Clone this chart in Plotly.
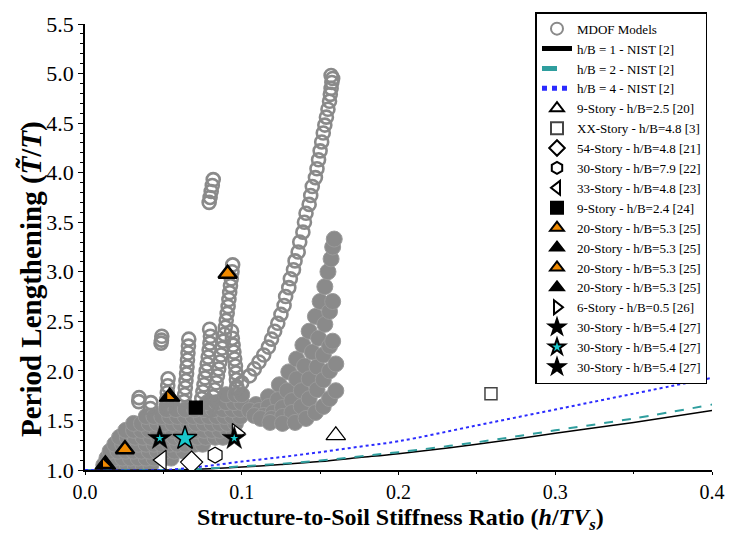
import plotly.graph_objects as go

# ---------------- data ----------------
# NIST curves
nist_x = [0.0, 0.05, 0.075, 0.1, 0.125, 0.15, 0.175, 0.2, 0.25, 0.3, 0.35, 0.4]
nist_hb1 = [1.0, 1.0, 1.01, 1.03, 1.055, 1.085, 1.125, 1.165, 1.26, 1.37, 1.48, 1.60]
nist_hb2 = [1.0, 1.0, 1.012, 1.037, 1.063, 1.095, 1.137, 1.18, 1.28, 1.40, 1.52, 1.66]
nist_hb4 = [1.0, 1.0, 1.035, 1.085, 1.13, 1.18, 1.235, 1.29, 1.45, 1.61, 1.77, 1.93]

# MDOF models - open circle chains (branches, columns, isolated groups)
long_x = [0.097, 0.100, 0.105, 0.108, 0.111, 0.114, 0.117, 0.119, 0.121, 0.123, 0.125, 0.127, 0.128,
          0.130, 0.131, 0.133, 0.134, 0.136, 0.137, 0.139, 0.140, 0.141, 0.143, 0.144, 0.145, 0.147,
          0.148, 0.149, 0.150, 0.151, 0.152, 0.153, 0.154, 0.155, 0.156, 0.1565, 0.157, 0.1575, 0.158, 0.157]
long_y = [1.82, 1.88, 1.95, 2.02, 2.09, 2.16, 2.24, 2.32, 2.40, 2.48, 2.57, 2.66, 2.75,
          2.84, 2.93, 3.02, 3.11, 3.20, 3.30, 3.40, 3.50, 3.59, 3.68, 3.77, 3.86, 3.95,
          4.04, 4.13, 4.22, 4.31, 4.40, 4.48, 4.56, 4.64, 4.72, 4.79, 4.85, 4.91, 4.95, 4.98]
col1_x = [0.0797, 0.0808, 0.0818, 0.0828, 0.0837, 0.0845, 0.0853, 0.0861, 0.0868, 0.0875, 0.0882,
          0.0889, 0.0895, 0.0901, 0.0907, 0.0913, 0.0918, 0.0923, 0.0928, 0.0933, 0.0938, 0.0942]
col1_y = [1.60, 1.67, 1.74, 1.81, 1.88, 1.95, 2.02, 2.09, 2.16, 2.23, 2.30,
          2.37, 2.44, 2.51, 2.58, 2.65, 2.72, 2.79, 2.86, 2.93, 3.00, 3.07]
hook_x = [0.0745, 0.0752, 0.0759, 0.0766, 0.0773, 0.0780, 0.0786, 0.0792, 0.0797, 0.0800, 0.0795]
hook_y = [1.72, 1.79, 1.86, 1.93, 2.00, 2.07, 2.14, 2.21, 2.28, 2.35, 2.42]
col2_x = [0.0968, 0.0966, 0.0963, 0.0960, 0.0955, 0.0950, 0.0945, 0.0940, 0.0935]
col2_y = [1.84, 1.91, 1.98, 2.05, 2.12, 2.19, 2.26, 2.33, 2.40]
col3_x = [0.0632, 0.0636, 0.0640, 0.0644, 0.0648, 0.0651, 0.0654, 0.0657, 0.0660, 0.0662]
col3_y = [1.69, 1.76, 1.83, 1.90, 1.97, 2.04, 2.11, 2.18, 2.25, 2.32]
col4_x = [0.0518, 0.0522, 0.0525, 0.0528, 0.0530]
col4_y = [1.64, 1.71, 1.78, 1.85, 1.92]
col5_x = [0.0417, 0.0420]
col5_y = [1.62, 1.68]
blob_a_x = [0.0485, 0.0488, 0.0490]
blob_a_y = [2.28, 2.31, 2.35]
blob_b_x = [0.0343, 0.0345]
blob_b_y = [1.69, 1.73]
blob_c_x = [0.0792, 0.0798, 0.0805, 0.0812, 0.0818]
blob_c_y = [3.70, 3.75, 3.81, 3.87, 3.93]

# MDOF models - dense regions (main cluster, rows of centres)
mass_rows_y = [1.05, 1.12, 1.19, 1.26, 1.33, 1.40, 1.47, 1.54, 1.61, 1.68, 1.76]
mass_rows_x = [
    [0.012, 0.017, 0.022, 0.027, 0.032, 0.037, 0.042],
    [0.014, 0.019, 0.024, 0.029, 0.034, 0.039, 0.044, 0.050, 0.055],
    [0.016, 0.021, 0.026, 0.031, 0.036, 0.041, 0.046, 0.051, 0.057, 0.063],
    [0.019, 0.024, 0.029, 0.034, 0.039, 0.044, 0.049, 0.054, 0.059, 0.064, 0.070, 0.075],
    [0.022, 0.027, 0.032, 0.037, 0.042, 0.047, 0.052, 0.057, 0.062, 0.067, 0.072, 0.077, 0.083, 0.088],
    [0.026, 0.031, 0.036, 0.041, 0.046, 0.051, 0.056, 0.061, 0.066, 0.071, 0.076, 0.081, 0.086, 0.091, 0.095],
    [0.031, 0.036, 0.041, 0.046, 0.051, 0.056, 0.061, 0.066, 0.071, 0.076, 0.081, 0.086, 0.091, 0.096],
    [0.039, 0.044, 0.049, 0.054, 0.059, 0.064, 0.069, 0.074, 0.079, 0.084, 0.089, 0.094, 0.099],
    [0.052, 0.058, 0.064, 0.070, 0.076, 0.082, 0.088, 0.094, 0.099],
    [0.078, 0.084, 0.090, 0.095, 0.100],
    [0.090, 0.096, 0.100],
]
# right fan (sub-branches)
fan_a_x = [0.109, 0.117, 0.124, 0.130, 0.135, 0.139, 0.143, 0.147, 0.150, 0.153, 0.155, 0.157, 0.158, 0.159]
fan_a_y = [1.66, 1.74, 1.86, 1.99, 2.12, 2.26, 2.40, 2.55, 2.70, 2.85, 3.00, 3.13, 3.25, 3.33]
fan_b_x = [0.105, 0.111, 0.117, 0.123, 0.129, 0.135, 0.140, 0.145, 0.149, 0.153, 0.156, 0.158]
fan_b_y = [1.60, 1.60, 1.64, 1.71, 1.80, 1.92, 2.05, 2.19, 2.33, 2.47, 2.60, 2.70]
fan_c_x = [0.108, 0.114, 0.120, 0.126, 0.132, 0.138, 0.143, 0.148, 0.152, 0.156, 0.158]
fan_c_y = [1.55, 1.55, 1.58, 1.63, 1.70, 1.80, 1.92, 2.04, 2.16, 2.25, 2.30]
fan_d_x = [0.112, 0.119, 0.126, 0.132, 0.138, 0.143, 0.148, 0.152, 0.156, 0.160]
fan_d_y = [1.52, 1.52, 1.54, 1.58, 1.64, 1.72, 1.81, 1.91, 2.00, 2.07]
fan_e_x = [0.118, 0.126, 0.134, 0.141, 0.147, 0.152, 0.156, 0.160]
fan_e_y = [1.48, 1.47, 1.48, 1.52, 1.58, 1.64, 1.72, 1.80]

# literature points
s9_25 = ([0.160], [1.35])
sxx = ([0.259], [1.77])
s54 = ([0.068], [1.08])
s30_79 = ([0.083], [1.15])
s33 = ([0.049], [1.10])
s9_24 = ([0.0707], [1.63])
s20_a = ([0.0255], [1.21])
s20_b = ([0.013], [1.056])
s20_c = ([0.091], [2.98])
s20_d = ([0.054], [1.74])
s6 = ([0.0967], [1.37])
s30_a = ([0.0952], [1.32])
s30_b = ([0.0638], [1.32])
s30_c = ([0.0477], [1.32])

labels = ["MDOF Models", "h/B = 1 - NIST [2]", "h/B = 2 - NIST [2]", "h/B = 4 - NIST [2]",
          "9-Story - h/B=2.5 [20]", "XX-Story - h/B=4.8 [3]", "54-Story - h/B=4.8 [21]",
          "30-Story - h/B=7.9 [22]", "33-Story - h/B=4.8 [23]", "9-Story - h/B=2.4 [24]",
          "20-Story - h/B=5.3 [25]", "6-Story - h/B=0.5 [26]", "30-Story - h/B=5.4 [27]"]
x_title = "<b>Structure-to-Soil Stiffness Ratio (<i>h</i>/<i>TV<sub>s</sub></i>)</b>"
y_title = "<b>Period Lengthening (<i>T\u0303</i>/<i>T</i>)</b>"

# ---------------- figure ----------------
GRAY = "#8a8a8a"
ORANGE = "#f08a00"
CYAN = "#19c8cc"
fig = go.Figure()

dense_x, dense_y = [], []
for yy, xs in zip(mass_rows_y, mass_rows_x):
    dense_x += xs
    dense_y += [yy] * len(xs)
for fx, fy in [(fan_a_x, fan_a_y), (fan_b_x, fan_b_y), (fan_c_x, fan_c_y), (fan_d_x, fan_d_y), (fan_e_x, fan_e_y)]:
    dense_x += fx
    dense_y += fy
fig.add_trace(go.Scatter(x=dense_x, y=dense_y, mode="markers", showlegend=False, hoverinfo="skip",
                         marker=dict(symbol="circle", size=16, color=GRAY, line=dict(color="#9a9a9a", width=1))))

open_x, open_y = [], []
for cx, cy in [(long_x, long_y), (col1_x, col1_y), (hook_x, hook_y), (col2_x, col2_y), (col3_x, col3_y),
               (col4_x, col4_y), (col5_x, col5_y), (blob_a_x, blob_a_y), (blob_b_x, blob_b_y), (blob_c_x, blob_c_y)]:
    open_x += cx
    open_y += cy
fig.add_trace(go.Scatter(x=open_x, y=open_y, mode="markers", name=labels[0],
                         marker=dict(symbol="circle-open", size=13, color=GRAY, line=dict(width=2.6))))

fig.add_trace(go.Scatter(x=nist_x, y=nist_hb1, mode="lines", name=labels[1], line=dict(color="black", width=1.5, shape="spline")))
fig.add_trace(go.Scatter(x=nist_x, y=nist_hb2, mode="lines", name=labels[2], line=dict(color="#2f9e9e", width=2, dash="dash", shape="spline")))
fig.add_trace(go.Scatter(x=nist_x, y=nist_hb4, mode="lines", name=labels[3], line=dict(color="#2b2bff", width=2, dash="dot", shape="spline")))

def pt(d, name, symbol, size, fill, lc="black", lw=1.2, show=True):
    fig.add_trace(go.Scatter(x=d[0], y=d[1], mode="markers", name=name, showlegend=show,
                             marker=dict(symbol=symbol, size=size, color=fill, line=dict(color=lc, width=lw))))

pt(s9_25, labels[4], "triangle-up", 17, "white")
pt(sxx, labels[5], "square", 12, "white", lc="#444444", lw=1.5)
pt(s54, labels[6], "diamond", 17, "white")
pt(s30_79, labels[7], "hexagon", 16, "white")
pt(s33, labels[8], "triangle-left", 17, "white")
pt(s9_24, labels[9], "square", 13, "black")
pt(s20_a, labels[10], "triangle-up", 16, ORANGE, lw=2.5)
pt(s20_b, labels[10], "triangle-up", 18, "black")
pt(s20_c, labels[10], "triangle-up", 16, ORANGE, lw=2.5)
pt(s20_d, labels[10], "triangle-up", 18, "black")
pt(s6, labels[11], "triangle-right", 17, "white")
pt(s30_a, labels[12], "star", 18, "black", lw=0.5)
pt(s30_b, labels[12], "star", 18, CYAN, lw=1.5)
pt(s30_c, labels[12], "star", 18, "black", lw=0.5)
# inner colour parts of the two-tone symbols
pt(s20_b, "", "triangle-sw", 8, ORANGE, lw=0, show=False)
pt(s20_d, "", "triangle-sw", 8, ORANGE, lw=0, show=False)
pt(s30_a, "", "star", 6, CYAN, lw=0, show=False)
pt(s30_c, "", "star", 6, CYAN, lw=0, show=False)

SERIF = "Liberation Serif, Times New Roman, serif"
fig.update_layout(
    width=737, height=534,
    margin=dict(l=85, r=15, t=18, b=64),
    paper_bgcolor="white", plot_bgcolor="white",
    font=dict(family=SERIF, color="black", size=20),
    legend=dict(x=0.7185, y=1.0265, xanchor="left", yanchor="top", maxheight=520,
                bgcolor="white", bordercolor="black", borderwidth=1.5, itemsizing="constant",
                entrywidth=150, entrywidthmode="pixels",
                font=dict(family=SERIF, size=13, color="black"), tracegroupgap=0),
    xaxis=dict(range=[0, 0.4], dtick=0.1, tickformat=".1f", showline=True, linecolor="black", linewidth=1.5,
               ticks="outside", ticklen=3, tickcolor="black", showgrid=False, zeroline=False,
               tickfont=dict(size=20),
               minor=dict(dtick=0.05, ticks="outside", ticklen=2, tickcolor="black")),
    yaxis=dict(range=[1.0, 5.5], dtick=0.5, tickformat=".1f", showline=True, linecolor="black", linewidth=1.5,
               ticks="outside", ticklen=5, tickcolor="black", showgrid=False, zeroline=False,
               tickfont=dict(size=22),
               minor=dict(dtick=0.1, ticks="outside", ticklen=3, tickcolor="black")),
    annotations=[
        dict(text=x_title, xref="paper", yref="paper", x=0.5025, y=-0.1095, xanchor="center", yanchor="middle",
             showarrow=False, font=dict(size=24, family=SERIF, color="black")),
        dict(text=y_title, xref="paper", yref="paper", x=-0.0855, y=0.429, xanchor="center", yanchor="middle",
             textangle=-90, showarrow=False, font=dict(size=29, family=SERIF, color="black")),
    ],
)

fig.write_html("out.html")
